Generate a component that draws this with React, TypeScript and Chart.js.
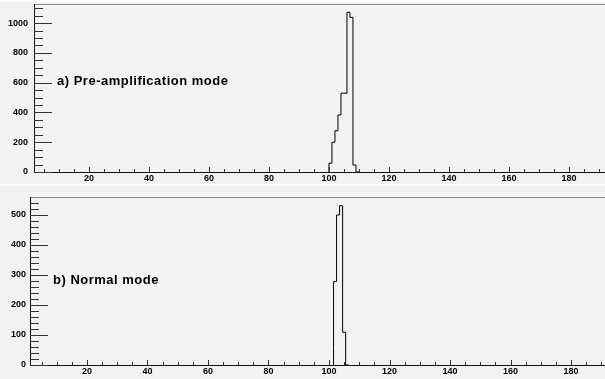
import React, { useEffect, useRef } from 'react';
import { Chart, registerables } from 'chart.js';

Chart.register(...registerables);

// ---- data ----
const binWidth = 1;
const topBinStart = 100;
const topCounts = [59, 59, 200, 277, 383, 529, 529, 1072, 1038, 47];
const bottomBinStart = 101.5;
const bottomCounts = [59, 278, 500, 531, 109];
const xTickLabels = [20, 40, 60, 80, 100, 120, 140, 160, 180];
const topYTickLabels = [0, 200, 400, 600, 800, 1000];
const bottomYTickLabels = [0, 100, 200, 300, 400, 500];
const topTitle = 'a) Pre-amplification mode';
const bottomTitle = 'b) Normal mode';

const FONT = '"Liberation Sans", Arial, sans-serif';

function histPoints(start: number, counts: number[]) {
  const pts: { x: number; y: number }[] = [{ x: start, y: 0 }];
  counts.forEach((c, i) => pts.push({ x: start + i * binWidth, y: c }));
  pts.push({ x: start + counts.length * binWidth, y: 0 });
  return pts;
}

type PanelProps = {
  counts: number[];
  binStart: number;
  yMax: number;
  yMinorStep: number;
  yTicks: number[];
  xMin: number;
  xMax: number;
  height: number;
  padTop: number;
  axisWidth: number;
  xAxisHeight: number;
  labelPad: number;
  title: string;
  titleDx: number;
  titleBaseline: number;
  top: number;
};

const framePlugin = {
  id: 'rootFrame',
  afterDraw(chart: any, _args: any, opts: any) {
    const ctx = chart.ctx;
    const ca = chart.chartArea;
    const xs = chart.scales.x;
    const ys = chart.scales.y;
    ctx.save();
    // frame top
    ctx.strokeStyle = '#8a8a8a';
    ctx.lineWidth = 1;
    ctx.beginPath();
    ctx.moveTo(ca.left, Math.round(ca.top) + 0.5);
    ctx.lineTo(ca.right, Math.round(ca.top) + 0.5);
    ctx.stroke();
    // axes
    ctx.strokeStyle = '#111';
    ctx.beginPath();
    ctx.moveTo(Math.round(ca.left) + 0.5, ca.top);
    ctx.lineTo(Math.round(ca.left) + 0.5, Math.round(ca.bottom) + 0.5);
    ctx.lineTo(ca.right, Math.round(ca.bottom) + 0.5);
    ctx.stroke();
    // y ticks
    ctx.strokeStyle = '#333';
    ctx.beginPath();
    for (let v = 0; v <= opts.yMax + 1e-6; v += opts.yMinorStep) {
      const major = opts.yTicks.includes(v);
      const py = Math.round(ys.getPixelForValue(v)) + 0.5;
      if (py < ca.top + 1) continue;
      const len = major ? 18 : 9;
      ctx.moveTo(ca.left, py);
      ctx.lineTo(ca.left + len, py);
    }
    // x ticks
    for (let v = 5; v <= opts.xMax; v += 5) {
      if (v < opts.xMin) continue;
      const major = v % 20 === 0;
      const px = Math.round(xs.getPixelForValue(v)) + 0.5;
      const len = major ? 5 : 3;
      ctx.moveTo(px, ca.bottom);
      ctx.lineTo(px, ca.bottom - len);
    }
    ctx.stroke();
    // title
    ctx.fillStyle = '#000';
    ctx.font = `bold 13px ${FONT}`;
    (ctx as any).letterSpacing = '0.5px';
    ctx.textBaseline = 'alphabetic';
    ctx.textAlign = 'left';
    ctx.fillText(opts.title, ca.left + opts.titleDx, opts.titleBaseline);
    ctx.restore();
  },
};

function Panel(p: PanelProps) {
  const ref = useRef<HTMLCanvasElement | null>(null);
  useEffect(() => {
    if (!ref.current) return;
    const chart = new Chart(ref.current, {
      type: 'line',
      data: {
        datasets: [
          {
            data: histPoints(p.binStart, p.counts),
            stepped: 'after',
            borderColor: '#000',
            borderWidth: 1,
            pointRadius: 0,
            fill: false,
          },
        ],
      },
      options: {
        responsive: false,
        animation: false,
        layout: { padding: { top: p.padTop, left: 0, right: 0, bottom: 0 } },
        plugins: {
          legend: { display: false },
          tooltip: { enabled: false },
          rootFrame: {
            yMax: p.yMax,
            yMinorStep: p.yMinorStep,
            yTicks: p.yTicks,
            xMin: p.xMin,
            xMax: p.xMax,
            title: p.title,
            titleDx: p.titleDx,
            titleBaseline: p.titleBaseline,
          },
        } as any,
        scales: {
          x: {
            type: 'linear',
            min: p.xMin,
            max: p.xMax,
            grid: { display: false, drawTicks: false },
            border: { display: false },
            afterBuildTicks: (s: any) => {
              s.ticks = xTickLabels.map((v) => ({ value: v }));
            },
            afterFit: (s: any) => {
              s.height = p.xAxisHeight;
              s.paddingLeft = 0;
              s.paddingRight = 0;
            },
            ticks: {
              autoSkip: false,
              maxRotation: 0,
              padding: 1,
              color: '#000',
              font: { family: FONT, size: 9, weight: 'bold' },
              callback: (v: any) => String(v),
            },
          },
          y: {
            type: 'linear',
            min: 0,
            max: p.yMax,
            grid: { display: false, drawTicks: false },
            border: { display: false },
            afterBuildTicks: (s: any) => {
              s.ticks = p.yTicks.map((v) => ({ value: v }));
            },
            afterFit: (s: any) => {
              s.width = p.axisWidth;
              s.paddingTop = 0;
              s.paddingBottom = 0;
            },
            ticks: {
              autoSkip: false,
              padding: p.labelPad,
              color: '#000',
              font: { family: FONT, size: 9, weight: 'bold' },
              callback: (v: any) => String(v),
            },
          },
        },
      },
      plugins: [framePlugin],
    });
    return () => chart.destroy();
  }, []);
  return (
    <canvas
      ref={ref}
      width={605}
      height={p.height}
      style={{ position: 'absolute', left: 0, top: p.top, width: 605, height: p.height }}
    />
  );
}

export default function App() {
  useEffect(() => {
    document.body.style.margin = '0';
  }, []);
  return (
    <div
      style={{
        position: 'absolute',
        left: 0,
        top: 0,
        width: 605,
        height: 379,
        background: '#f2f2f2',
        overflow: 'hidden',
      }}
    >
      <div style={{ position: 'absolute', left: 0, top: 0, width: 605, height: 2, background: '#fbfbfb' }} />
      <div style={{ position: 'absolute', left: 0, top: 184, width: 605, height: 2, background: '#fdfdfd' }} />
      <Panel
        counts={topCounts}
        binStart={topBinStart}
        yMax={1128}
        yMinorStep={50}
        yTicks={topYTickLabels}
        xMin={1.7}
        xMax={192}
        height={186}
        top={0}
        padTop={4}
        axisWidth={34}
        xAxisHeight={14}
        labelPad={6}
        title={topTitle}
        titleDx={23}
        titleBaseline={85}
      />
      <Panel
        counts={bottomCounts}
        binStart={bottomBinStart}
        yMax={560}
        yMinorStep={20}
        yTicks={bottomYTickLabels}
        xMin={1.2}
        xMax={191.2}
        height={192}
        top={187}
        padTop={10}
        axisWidth={30}
        xAxisHeight={14}
        labelPad={4}
        title={bottomTitle}
        titleDx={23}
        titleBaseline={97}
      />
    </div>
  );
}
